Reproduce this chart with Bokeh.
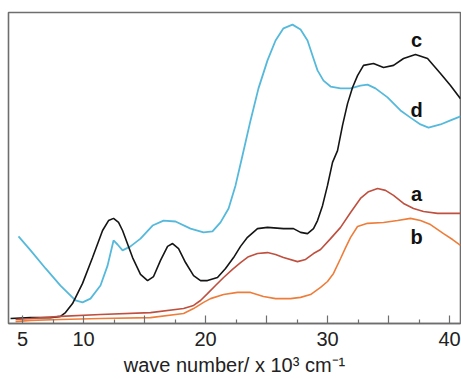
from bokeh.plotting import figure
from bokeh.models import Range1d, FixedTicker
from bokeh.core.properties import value
from bokeh.embed import file_html
from bokeh.resources import INLINE

# wave number (x 10^3 cm^-1) and absorbance (arbitrary units)
a_x = [4.43, 5.66, 8.11, 11.39, 15.49, 18.20, 19.02, 19.59, 20.16, 20.82, 21.48, 22.21, 22.87, 23.52,
       24.26, 25.08, 25.74, 26.39, 27.54, 28.20, 28.85, 29.43, 30.25, 31.07, 31.89, 32.70, 33.36,
       34.10, 34.75, 35.41, 36.23, 37.05, 37.87, 39.02, 40.08, 40.90]
a_y = [0.013, 0.016, 0.023, 0.029, 0.035, 0.048, 0.058, 0.074, 0.096, 0.122, 0.148, 0.174, 0.196, 0.215,
       0.225, 0.228, 0.222, 0.212, 0.199, 0.206, 0.225, 0.238, 0.273, 0.309, 0.357, 0.402, 0.424,
       0.434, 0.428, 0.412, 0.386, 0.370, 0.360, 0.354, 0.354, 0.354]

b_x = [4.43, 5.66, 8.11, 11.39, 15.49, 18.20, 19.02, 19.84, 20.41, 21.48, 22.62, 23.69, 24.75, 25.74,
       26.97, 27.79, 28.61, 29.43, 30.00, 30.49, 31.07, 31.48, 31.89, 32.46, 33.28, 34.59, 35.74,
       36.80, 37.62, 38.44, 39.51, 40.25, 40.90]
b_y = [0.006, 0.010, 0.013, 0.016, 0.019, 0.032, 0.048, 0.068, 0.080, 0.093, 0.100, 0.100, 0.087, 0.080,
       0.080, 0.084, 0.093, 0.116, 0.135, 0.161, 0.209, 0.244, 0.277, 0.312, 0.322, 0.325, 0.331,
       0.338, 0.331, 0.318, 0.289, 0.270, 0.251]

c_x = [4.02, 5.66, 7.30, 8.11, 8.52, 9.10, 9.92, 10.74, 11.56, 12.05, 12.46, 12.87, 13.20, 14.02,
       14.67, 15.25, 15.74, 16.31, 16.89, 17.30, 17.79, 18.36, 19.02, 19.59, 20.16, 20.98, 21.64,
       22.30, 22.87, 23.44, 24.26, 25.08, 26.39, 27.21, 27.79, 28.36, 28.85, 29.18, 29.59, 30.00,
       30.41, 30.82, 31.23, 31.64, 32.05, 32.46, 32.95, 33.77, 34.59, 35.41, 36.23, 37.21, 38.20,
       39.26, 40.08, 40.90]
c_y = [0.016, 0.019, 0.019, 0.023, 0.035, 0.064, 0.129, 0.212, 0.299, 0.331, 0.338, 0.325, 0.299, 0.212,
       0.158, 0.138, 0.151, 0.203, 0.248, 0.257, 0.241, 0.196, 0.154, 0.138, 0.138, 0.148, 0.177,
       0.212, 0.248, 0.277, 0.305, 0.309, 0.305, 0.305, 0.293, 0.289, 0.305, 0.331, 0.379, 0.444,
       0.518, 0.556, 0.637, 0.707, 0.759, 0.797, 0.830, 0.836, 0.823, 0.830, 0.852, 0.865, 0.852,
       0.804, 0.765, 0.723]

d_x = [4.67, 5.66, 6.89, 8.11, 9.34, 9.92, 10.57, 11.39, 11.97, 12.46, 12.79, 13.20, 13.85, 14.67,
       15.66, 16.56, 17.54, 18.77, 19.84, 20.57, 21.23, 21.89, 22.46, 23.03, 23.69, 24.34, 25.08,
       25.74, 26.39, 27.13, 27.79, 28.36, 28.85, 29.18, 29.67, 30.25, 31.07, 31.89, 32.70, 33.28,
       33.93, 34.92, 35.98, 36.80, 37.62, 38.28, 39.26, 40.08, 40.90]
d_y = [0.280, 0.235, 0.177, 0.122, 0.074, 0.068, 0.080, 0.122, 0.186, 0.267, 0.254, 0.235, 0.248, 0.273,
       0.315, 0.331, 0.328, 0.305, 0.293, 0.296, 0.325, 0.370, 0.444, 0.540, 0.653, 0.756, 0.846,
       0.910, 0.949, 0.961, 0.945, 0.910, 0.852, 0.814, 0.781, 0.762, 0.756, 0.756, 0.765, 0.768,
       0.756, 0.727, 0.685, 0.662, 0.640, 0.630, 0.640, 0.653, 0.666]

label_text = ["a", "b", "c", "d"]
label_x = [37.3, 37.3, 37.3, 37.3]
label_y = [0.418, 0.277, 0.910, 0.685]

major_ticks = [5, 10, 15, 20, 25, 30, 35, 40]
minor_ticks = [7.5, 12.5, 17.5, 22.5, 27.5, 32.5, 37.5]
tick_labels = {5: "5", 10: "10", 15: "", 20: "20", 25: "", 30: "30", 35: "", 40: "40"}

FONT = "Liberation Sans"
FRAME = "#6e6e6e"

p = figure(width=461, height=379, output_backend="svg", toolbar_location=None,
           x_range=Range1d(3.85, 40.9), y_range=Range1d(0, 1),
           y_axis_location=None, min_border_left=8, min_border_right=1,
           min_border_top=12, min_border_bottom=56)
p.grid.visible = False
p.background_fill_color = "white"
p.border_fill_color = "white"
p.outline_line_color = FRAME
p.outline_line_width = 1.6

ax = p.xaxis[0]
ax.ticker = FixedTicker(ticks=major_ticks, minor_ticks=minor_ticks)
ax.major_label_overrides = tick_labels
ax.axis_line_color = FRAME
ax.axis_line_width = 1.6
ax.major_tick_in = 8
ax.major_tick_out = 0
ax.minor_tick_in = 4
ax.minor_tick_out = 0
ax.major_tick_line_color = FRAME
ax.minor_tick_line_color = FRAME
ax.major_tick_line_width = 1.2
ax.minor_tick_line_width = 1.2
ax.major_label_text_font = FONT
ax.major_label_text_font_size = "20px"
ax.major_label_text_color = "#222222"
ax.major_label_standoff = 8
ax.axis_label = "wave number/ x 10\u00b3 cm\u207b\u00b9"
ax.axis_label_text_font = FONT
ax.axis_label_text_font_size = "20px"
ax.axis_label_text_font_style = "normal"
ax.axis_label_text_color = "#222222"
ax.axis_label_standoff = 5

p.line(d_x, d_y, line_color="#55b9dc", line_width=1.8)
p.line(c_x, c_y, line_color="#151515", line_width=1.6)
p.line(a_x, a_y, line_color="#bf4f3e", line_width=1.6)
p.line(b_x, b_y, line_color="#ee7d3a", line_width=1.6)

p.text(label_x, label_y, text=label_text, text_font=value(FONT), text_font_size="20px",
       text_font_style="bold", text_color="#111111", text_align="center", text_baseline="middle")

open("out.html", "w").write(file_html(p, INLINE))
